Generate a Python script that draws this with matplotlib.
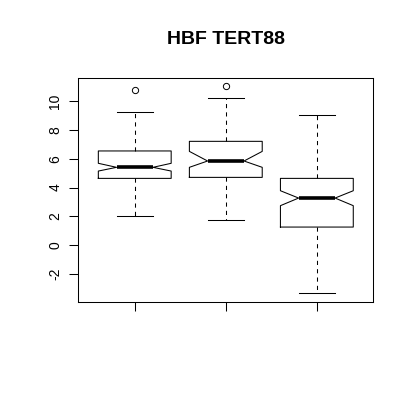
import matplotlib
matplotlib.use("Agg")
import matplotlib.pyplot as plt

plt.rcParams['font.family'] = ['Liberation Sans', 'DejaVu Sans']
plt.rcParams['lines.scale_dashes'] = False

# valeurs
groups = [1, 2, 3]
whislo = [2.02, 1.72, -3.34]
q1 = [4.64, 4.71, 1.25]
med = [5.41, 5.85, 3.27]
q3 = [6.55, 7.22, 4.64]
whishi = [9.24, 10.21, 9.05]
ci_lo = [5.15, 5.41, 2.74]
ci_hi = [5.69, 6.52, 3.78]
outliers = [[10.77], [11.09], []]
yticks = [-2, 0, 2, 4, 6, 8, 10]
title = "HBF TERT88"

stats = []
for i in range(len(groups)):
    stats.append(dict(whislo=whislo[i], q1=q1[i], med=med[i], q3=q3[i],
                      whishi=whishi[i], cilo=ci_lo[i], cihi=ci_hi[i],
                      fliers=outliers[i]))

fig = plt.figure(figsize=(4.14, 4.0), dpi=100)
ax = fig.add_axes([78.3/414, 1-302.3/400, 295/414, 224/400])

lw = 0.75
ax.bxp(stats, positions=groups, widths=0.8, shownotches=True,
       capwidths=0.4,
       boxprops=dict(color='black', linewidth=lw),
       medianprops=dict(color='black', linewidth=2.6, solid_capstyle='butt'),
       whiskerprops=dict(color='black', linewidth=lw, linestyle=(0, (3, 3))),
       capprops=dict(color='black', linewidth=lw),
       flierprops=dict(marker='o', markersize=4.5, markerfacecolor='none',
                       markeredgecolor='black', markeredgewidth=0.7))

ax.set_xlim(0.38, 3.62)
ax.set_ylim(-3.99, 11.61)
ax.set_xticks(groups)
ax.set_xticklabels([])
ax.set_yticks(yticks)
ax.set_yticklabels([str(v) for v in yticks], rotation=90, va='center', fontsize=10)
ax.tick_params(length=6.5, width=lw, pad=5)
for s in ax.spines.values():
    s.set_linewidth(lw)

fig.text(225.8/414, 1-39/400, title, ha='center', va='center',
         fontsize=14, fontweight='bold')

fig.savefig("out.png", dpi=100)
